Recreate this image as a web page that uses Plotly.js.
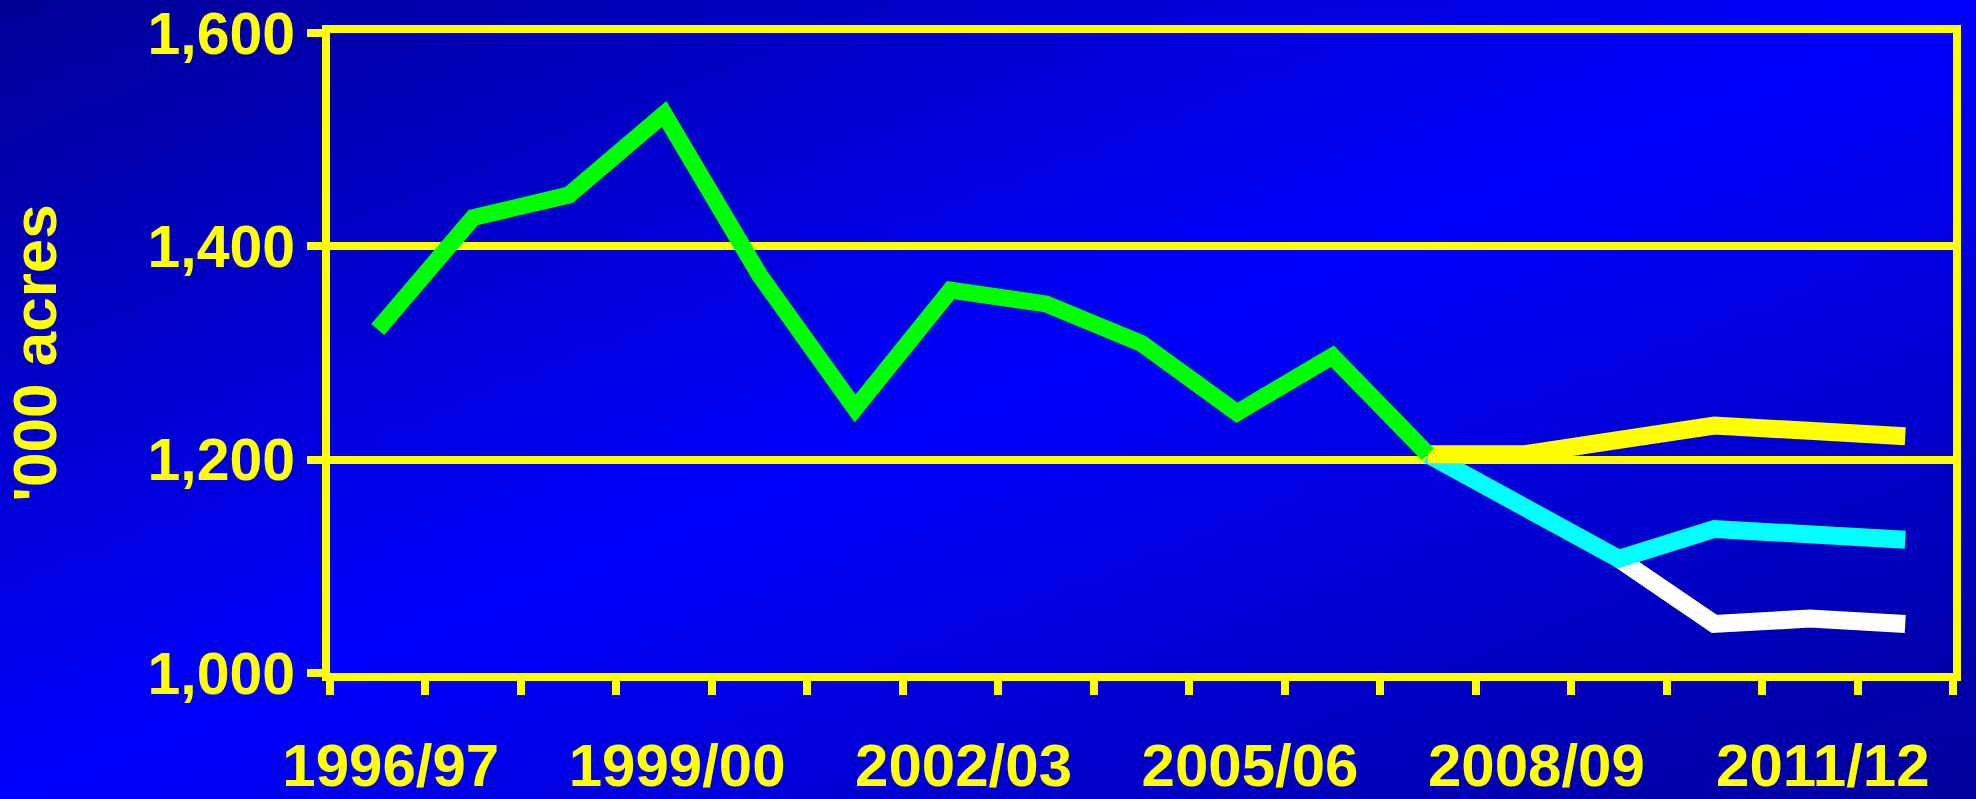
<!DOCTYPE html>
<html>
<head>
<meta charset="utf-8">
<script src="https://cdn.plot.ly/plotly-3.0.1.min.js"></script>
<style>
  html, body { margin: 0; padding: 0; width: 1976px; height: 799px; overflow: hidden;
    background: linear-gradient(to bottom right, #000096 0%, #0000ff 50%, #00009a 100%); }
  #chart { width: 1976px; height: 799px; }
</style>
</head>
<body>
<div id="chart"></div>
<script>
const categories = ["1996/97","1997/98","1998/99","1999/00","2000/01","2001/02","2002/03","2003/04",
  "2004/05","2005/06","2006/07","2007/08","2008/09","2009/10","2010/11","2011/12","2012/13"];
const tickLabels = ["1996/97","","","1999/00","","","2002/03","","","2005/06","","","2008/09","","","2011/12",""];

const actualYears = ["1996/97","1997/98","1998/99","1999/00","2000/01","2001/02","2002/03","2003/04",
  "2004/05","2005/06","2006/07","2007/08"];
const actualValues = [1322, 1427, 1448, 1524, 1373, 1248, 1359, 1346, 1309, 1244, 1297, 1205];

const highYears = ["2007/08","2008/09","2010/11","2012/13"];
const highValues = [1205, 1205, 1232, 1222];

const midYears = ["2007/08","2008/09","2009/10","2010/11","2012/13"];
const midValues = [1205, 1158, 1107, 1135, 1125];

const lowYears = ["2009/10","2010/11","2011/12","2012/13"];
const lowValues = [1107, 1046, 1051, 1046];

const yTicks = [1000, 1200, 1400, 1600];

const FONT = "Liberation Sans, Arial, sans-serif";
const YEL = "#ffff00";

const traces = [
  {x: lowYears, y: lowValues, type: "scatter", mode: "lines", name: "Low",
   line: {color: "#ffffff", width: 18}},
  {x: midYears, y: midValues, type: "scatter", mode: "lines", name: "Mid",
   line: {color: "#00ffff", width: 18}},
  {x: highYears, y: highValues, type: "scatter", mode: "lines", name: "High",
   line: {color: "#ffff00", width: 18}},
  {x: actualYears, y: actualValues, type: "scatter", mode: "lines", name: "Actual",
   line: {color: "#00ff00", width: 17}}
];

const layout = {
  width: 1976, height: 799,
  margin: {l: 330, r: 23, t: 33, b: 126, pad: 0},
  paper_bgcolor: "rgba(0,0,0,0)",
  plot_bgcolor: "rgba(0,0,0,0)",
  showlegend: false,
  xaxis: {
    type: "category",
    categoryorder: "array", categoryarray: categories,
    range: [-0.5, categories.length - 0.5],
    tickmode: "array", tickvals: categories, ticktext: tickLabels,
    tickson: "boundaries", tickangle: 0,
    ticks: "outside", ticklen: 14, tickwidth: 8, tickcolor: YEL,
    showline: true, linecolor: YEL, linewidth: 8, mirror: true,
    showgrid: false, zeroline: false,
    ticklabelshift: 13, ticklabelstandoff: 33,
    tickfont: {family: FONT, size: 60, color: YEL, weight: "bold"}
  },
  yaxis: {
    range: [1000, 1600],
    tickmode: "array", tickvals: yTicks, tickformat: ",",
    ticks: "outside", ticklen: 15, tickwidth: 8, tickcolor: YEL,
    showline: true, linecolor: YEL, linewidth: 8, mirror: true,
    showgrid: true, gridcolor: YEL, gridwidth: 8, zeroline: false,
    ticklabelstandoff: 0, ticklabeloverflow: "allow",
    tickfont: {family: FONT, size: 59, color: YEL, weight: "bold"},
    title: {text: "'000 acres", standoff: 85,
      font: {family: FONT, size: 62, color: YEL, weight: "bold"}}
  }
};

Plotly.newPlot("chart", traces, layout, {displayModeBar: false, staticPlot: true});
</script>
</body>
</html>
